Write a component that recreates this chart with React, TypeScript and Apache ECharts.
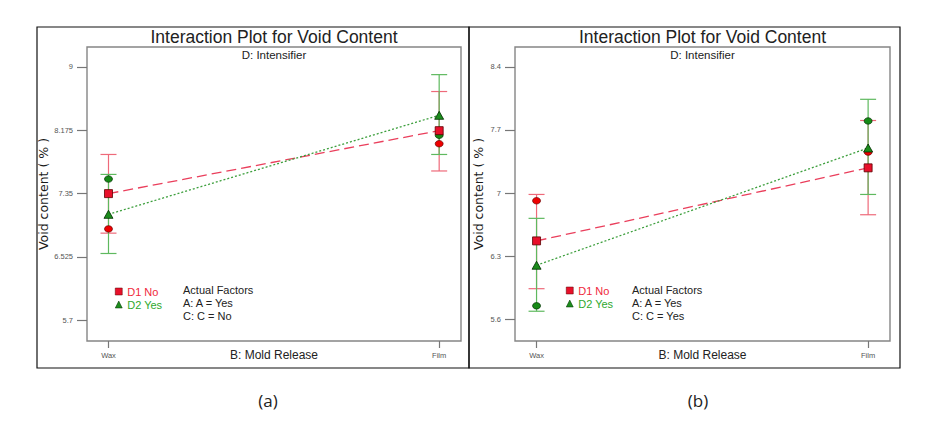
import React, { useEffect, useRef } from "react";
import * as echarts from "echarts";

// Factor B levels on the x axis
const moldRelease = ["Wax", "Film"];

// Panel (a): C = No
const aTicks = [5.7, 6.525, 7.35, 8.175, 9];
const aD1Mean = [7.35, 8.17];
const aD2Mean = [7.08, 8.37];
const aD1Low = [6.835, 7.645];
const aD1High = [7.86, 8.68];
const aD2Low = [6.57, 7.86];
const aD2High = [7.6, 8.9];
const aD1Points = [6.89, 8.0];
const aD2Points = [7.54, 8.11];

// Panel (b): C = Yes
const bTicks = [5.6, 6.3, 7, 7.7, 8.4];
const bD1Mean = [6.47, 7.28];
const bD2Mean = [6.2, 7.5];
const bD1Low = [5.94, 6.76];
const bD1High = [6.985, 7.805];
const bD2Low = [5.69, 6.985];
const bD2High = [6.72, 8.04];
const bD1Points = [6.915, 7.455];
const bD2Points = [5.75, 7.8];

const RED = "#e8102a";
const RED_LINE = "#ea3f5c";
const RED_BAR = "#ee6a7a";
const GREEN = "#1c8c1c";
const GREEN_LINE = "#3d9f3d";
const GREEN_BAR = "#5fb95f";
const FONT = "Liberation Sans, Arial, sans-serif";

const pairs = (vals: number[]) => vals.map((v, i) => [i, v]);
const bars = (low: number[], high: number[]) => low.map((l, i) => [i, l, high[i]]);

function errorBarSeries(idx: number, low: number[], high: number[], color: string) {
  return {
    type: "custom",
    xAxisIndex: idx,
    yAxisIndex: idx,
    z: 1,
    silent: true,
    data: bars(low, high),
    renderItem: (params: any, api: any) => {
      const x = api.value(0);
      const lo = api.coord([x, api.value(1)]);
      const hi = api.coord([x, api.value(2)]);
      const half = 8;
      const style = { stroke: color, lineWidth: 1.2 };
      return {
        type: "group",
        children: [
          { type: "line", shape: { x1: lo[0], y1: lo[1], x2: hi[0], y2: hi[1] }, style },
          { type: "line", shape: { x1: hi[0] - half, y1: hi[1], x2: hi[0] + half, y2: hi[1] }, style },
          { type: "line", shape: { x1: lo[0] - half, y1: lo[1], x2: lo[0] + half, y2: lo[1] }, style },
        ],
      };
    },
  };
}

function panelSeries(
  idx: number,
  d1Mean: number[], d2Mean: number[],
  d1Low: number[], d1High: number[],
  d2Low: number[], d2High: number[],
  d1Pts: number[], d2Pts: number[]
) {
  return [
    errorBarSeries(idx, d1Low, d1High, RED_BAR),
    errorBarSeries(idx, d2Low, d2High, GREEN_BAR),
    {
      type: "line", name: "D1 trend", xAxisIndex: idx, yAxisIndex: idx, z: 2,
      data: pairs(d1Mean), showSymbol: false, symbol: "none", silent: true,
      lineStyle: { color: RED_LINE, width: 1.3, type: [10, 5] },
    },
    {
      type: "line", name: "D2 trend", xAxisIndex: idx, yAxisIndex: idx, z: 2,
      data: pairs(d2Mean), showSymbol: false, symbol: "none", silent: true,
      lineStyle: { color: GREEN_LINE, width: 1.3, type: [2, 2] },
    },
    {
      type: "scatter", name: "D1 No", xAxisIndex: idx, yAxisIndex: idx, z: 4,
      data: pairs(d1Mean), symbol: "rect", symbolSize: 8,
      itemStyle: { color: RED, borderColor: "#5a0000", borderWidth: 0.8, opacity: 1 },
    },
    {
      type: "scatter", name: "D2 Yes", xAxisIndex: idx, yAxisIndex: idx, z: 4,
      data: pairs(d2Mean), symbol: "triangle", symbolSize: [9, 8],
      itemStyle: { color: GREEN, borderColor: "#003000", borderWidth: 0.8, opacity: 1 },
    },
    {
      type: "scatter", name: "D1 design", xAxisIndex: idx, yAxisIndex: idx, z: 3,
      data: pairs(d1Pts), symbol: "circle", symbolSize: [8, 6.5],
      itemStyle: { color: "#ee0000", borderColor: "#6a0000", borderWidth: 0.7, opacity: 1 },
    },
    {
      type: "scatter", name: "D2 design", xAxisIndex: idx, yAxisIndex: idx, z: 3,
      data: pairs(d2Pts), symbol: "circle", symbolSize: [8, 6.5],
      itemStyle: { color: "#168a16", borderColor: "#003000", borderWidth: 0.7, opacity: 1 },
    },
  ];
}

function xAxis(idx: number) {
  return {
    type: "value", gridIndex: idx, min: -0.065, max: 1.066,
    splitLine: { show: false },
    axisLine: { show: false, onZero: false },
    axisTick: { show: true, length: 7, customValues: [0, 1], lineStyle: { color: "#777", width: 1.2 } },
    axisLabel: {
      customValues: [0, 1], margin: 10, fontSize: 7.5, color: "#555", fontFamily: FONT,
      formatter: (v: number) => moldRelease[Math.round(v)] ?? "",
    },
  };
}

function yAxis(idx: number, ticks: number[], min: number, max: number, gap: number) {
  return {
    type: "value", gridIndex: idx, min, max,
    splitLine: { show: false },
    axisLine: { show: false, onZero: false },
    axisTick: { show: true, length: 10, customValues: ticks, lineStyle: { color: "#777", width: 1.2 } },
    axisLabel: {
      customValues: ticks, margin: 14, fontSize: 7.5, color: "#555", fontFamily: FONT,
      formatter: (v: number) => String(v),
    },
    name: "Void content ( % )",
    nameLocation: "middle",
    nameGap: gap,
    nameTextStyle: { fontSize: 12.5, color: "#1a1a1a", fontFamily: "DejaVu Sans, sans-serif" },
  };
}

function legend(left: number, top: number) {
  return {
    left, top, orient: "vertical", padding: 0, itemGap: 2,
    itemWidth: 7, itemHeight: 7, selectedMode: false,
    itemStyle: { borderWidth: 0.5 },
    textStyle: { fontSize: 11, fontFamily: FONT },
    data: [
      { name: "D1 No", icon: "rect", textStyle: { color: "#f0283c" } },
      { name: "D2 Yes", icon: "triangle", textStyle: { color: "#2ea82e" } },
    ],
  };
}

function texts(cx: number, factorX: number, cLabel: string) {
  const t = (text: string, x: number, y: number, size: number, align = "center", color = "#222", family = FONT) => ({
    type: "text", x, y, silent: true,
    style: { text, fill: color, font: `${size}px ${family}`, textAlign: align, textVerticalAlign: "middle" },
  });
  return [
    t("Interaction Plot for Void Content", cx, 37, 17.5),
    t("D: Intensifier", cx, 55, 11.5),
    t("B: Mold Release", cx, 355, 12),
    t("Actual Factors", factorX, 290, 11, "left"),
    t("A: A = Yes", factorX, 303, 11, "left"),
    t(cLabel, factorX, 316, 11, "left"),
  ];
}

export default function App() {
  const ref = useRef<HTMLDivElement>(null);

  useEffect(() => {
    document.body.style.margin = "0";
    if (!ref.current) return;
    const chart = echarts.init(ref.current, undefined, { renderer: "svg" });
    chart.setOption({
      animation: false,
      backgroundColor: "#ffffff",
      grid: [
        { left: 87, top: 47, width: 374, height: 294, show: true, borderColor: "#858585", borderWidth: 1.4, backgroundColor: "transparent" },
        { left: 515, top: 47, width: 375, height: 294, show: true, borderColor: "#858585", borderWidth: 1.4, backgroundColor: "transparent" },
      ],
      xAxis: [xAxis(0), xAxis(1)],
      yAxis: [yAxis(0, aTicks, 5.43, 9.26, 37), yAxis(1, bTicks, 5.36, 8.62, 30)],
      legend: [legend(115, 286), legend(566, 285)],
      series: [
        ...panelSeries(0, aD1Mean, aD2Mean, aD1Low, aD1High, aD2Low, aD2High, aD1Points, aD2Points),
        ...panelSeries(1, bD1Mean, bD2Mean, bD1Low, bD1High, bD2Low, bD2High, bD1Points, bD2Points),
      ],
      graphic: [
        { type: "rect", shape: { x: 37, y: 27, width: 432, height: 341 }, style: { fill: "none", stroke: "#111", lineWidth: 1.2 }, silent: true },
        { type: "rect", shape: { x: 469, y: 27, width: 431, height: 341 }, style: { fill: "none", stroke: "#111", lineWidth: 1.2 }, silent: true },
        ...texts(274, 183, "C: C = No"),
        ...texts(702.5, 632, "C: C = Yes"),
        {
          type: "text", x: 268, y: 400, silent: true,
          style: { text: "(a)", fill: "#222", font: "17px 'Open Sans', sans-serif", textAlign: "center", textVerticalAlign: "middle" },
        },
        {
          type: "text", x: 698, y: 400, silent: true,
          style: { text: "(b)", fill: "#222", font: "17px 'Open Sans', sans-serif", textAlign: "center", textVerticalAlign: "middle" },
        },
      ],
    });
    return () => chart.dispose();
  }, []);

  return <div ref={ref} style={{ width: 927, height: 427, background: "#fff" }} />;
}
